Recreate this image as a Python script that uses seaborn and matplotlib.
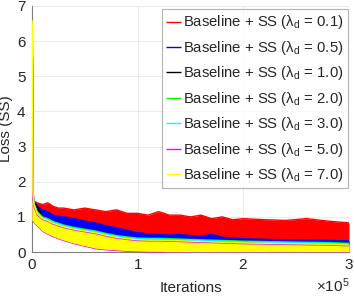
import matplotlib
matplotlib.use("Agg")
import matplotlib.pyplot as plt
import matplotlib.ticker as mticker
import pandas as pd
import seaborn as sns

# iterations at which the loss envelopes were read
iters = [0, 500, 1000, 2000, 5000, 10000, 15000, 20000, 25000, 30000, 40000,
         50000, 60000, 70000, 80000, 90000, 100000, 110000, 120000, 130000,
         140000, 150000, 160000, 170000, 180000, 190000, 200000, 220000,
         240000, 260000, 280000, 300000]

# upper envelope of each noisy loss curve
hi_01 = [6.3, 6.0, 1.8, 1.45, 1.4, 1.35, 1.4, 1.3, 1.25, 1.25, 1.2, 1.25, 1.2,
         1.15, 1.2, 1.1, 1.1, 1.05, 1.15, 1.05, 1.05, 1.0, 1.05, 0.95, 1.0,
         0.92, 0.95, 0.92, 0.9, 0.95, 0.88, 0.83]
hi_05 = [6.0, 5.5, 1.6, 1.4, 1.3, 1.2, 1.15, 1.05, 1.02, 1.0, 0.95, 0.88, 0.83,
         0.75, 0.69, 0.62, 0.55, 0.52, 0.5, 0.48, 0.5, 0.47, 0.45, 0.5, 0.42,
         0.4, 0.38, 0.36, 0.35, 0.34, 0.33, 0.32]
hi_10 = [6.0, 5.5, 1.55, 1.42, 1.32, 1.0, 0.93, 0.85, 0.8, 0.75, 0.68, 0.63,
         0.58, 0.51, 0.45, 0.41, 0.38, 0.37, 0.37, 0.36, 0.35, 0.34, 0.33,
         0.32, 0.31, 0.3, 0.29, 0.28, 0.28, 0.27, 0.26, 0.24]
hi_20 = [6.0, 5.5, 1.55, 1.38, 1.15, 1.0, 0.95, 0.87, 0.82, 0.77, 0.7, 0.65,
         0.6, 0.53, 0.47, 0.43, 0.4, 0.39, 0.39, 0.38, 0.37, 0.36, 0.35, 0.34,
         0.33, 0.32, 0.31, 0.3, 0.29, 0.28, 0.27, 0.25]
hi_30 = [6.2, 5.8, 1.72, 1.37, 1.13, 0.98, 0.93, 0.85, 0.8, 0.75, 0.68, 0.63,
         0.58, 0.51, 0.45, 0.41, 0.38, 0.37, 0.37, 0.36, 0.35, 0.34, 0.33,
         0.32, 0.31, 0.3, 0.29, 0.28, 0.27, 0.26, 0.25, 0.23]
hi_50 = [6.0, 5.5, 1.6, 1.3, 1.07, 0.93, 0.88, 0.8, 0.75, 0.7, 0.63, 0.58,
         0.53, 0.46, 0.4, 0.36, 0.33, 0.32, 0.32, 0.31, 0.3, 0.29, 0.28, 0.27,
         0.26, 0.25, 0.24, 0.23, 0.22, 0.21, 0.2, 0.18]
hi_70 = [6.6, 6.4, 1.7, 1.35, 1.1, 0.95, 0.9, 0.82, 0.77, 0.72, 0.65, 0.6,
         0.55, 0.48, 0.42, 0.38, 0.35, 0.34, 0.34, 0.33, 0.32, 0.31, 0.3, 0.29,
         0.28, 0.27, 0.26, 0.25, 0.24, 0.23, 0.22, 0.2]

# lower envelopes
lo_01 = [1.0, 1.0, 1.0, 1.0, 0.9, 0.85, 0.8, 0.75, 0.7, 0.7, 0.65, 0.6, 0.55,
         0.5, 0.45, 0.42, 0.4, 0.38, 0.36, 0.35, 0.35, 0.34, 0.33, 0.32, 0.31,
         0.3, 0.3, 0.28, 0.27, 0.26, 0.25, 0.25]
lo_hidden = [0.9, 0.9, 0.88, 0.83, 0.75, 0.6, 0.52, 0.45, 0.39, 0.34, 0.25,
             0.18, 0.11, 0.08, 0.06, 0.04, 0.03, 0.02, 0.02, 0.01, 0.01, 0.01,
             0.01, 0.01, 0.01, 0.01, 0.01, 0.01, 0.01, 0.01, 0.01, 0.01]
lo_50 = [0.88, 0.88, 0.86, 0.81, 0.73, 0.58, 0.5, 0.43, 0.37, 0.32, 0.23, 0.16,
         0.09, 0.06, 0.04, 0.02, 0.01, 0.0, 0.0, 0.0, 0.0, 0.0, 0.0, 0.0, 0.0,
         0.0, 0.0, 0.0, 0.0, 0.0, 0.0, 0.0]
lo_70 = [0.9, 0.9, 0.88, 0.83, 0.75, 0.6, 0.52, 0.45, 0.39, 0.34, 0.25, 0.18,
         0.11, 0.08, 0.06, 0.04, 0.03, 0.02, 0.02, 0.01, 0.01, 0.01, 0.01, 0.01,
         0.01, 0.01, 0.01, 0.01, 0.01, 0.01, 0.01, 0.01]

lambdas = ["0.1", "0.5", "1.0", "2.0", "3.0", "5.0", "7.0"]
colors = ["#ff0000", "#0000ff", "#000000", "#00ff00", "#00ffff", "#ff00ff", "#ffff00"]
highs = [hi_01, hi_05, hi_10, hi_20, hi_30, hi_50, hi_70]
lows = [lo_01, lo_hidden, lo_hidden, lo_hidden, lo_hidden, lo_50, lo_70]

sns.set_theme(style="whitegrid")
plt.rcParams["font.family"] = ["Liberation Sans", "DejaVu Sans"]
plt.rcParams["mathtext.fontset"] = "custom"
plt.rcParams["mathtext.rm"] = "Liberation Sans"
plt.rcParams["mathtext.it"] = "Liberation Sans:italic"
plt.rcParams["lines.solid_capstyle"] = "butt"

fig = plt.figure(figsize=(3.54, 2.99), dpi=100)
ax = fig.add_axes([0.09, 0.157, 0.896, 0.823])

for lam, col, hi, lo in zip(lambdas, colors, highs, lows):
    df = pd.DataFrame({"it": iters, "hi": hi, "lo": lo})
    sns.lineplot(data=df, x="it", y="hi", color=col, lw=1.0, ax=ax, legend=False)
    ax.fill_between(df["it"], df["lo"], df["hi"], color=col, lw=0)
    ax.plot([], [], color=col, lw=1.0,
            label=f"Baseline + SS (\u03bb$_\\mathrm{{d}}$ = {lam})")

ax.set_xlim(0, 300000)
ax.set_ylim(0, 7)
ax.set_yticks(range(0, 8))
ax.set_xticks([0, 100000, 200000, 300000])
fmt = mticker.ScalarFormatter(useMathText=True)
fmt.set_powerlimits((0, 0))
ax.xaxis.set_major_formatter(fmt)
ax.xaxis.get_offset_text().set_fontsize(11)
ax.xaxis.get_offset_text().set_color("#262626")

ax.set_facecolor("white")
ax.grid(True, color="#e6e6e6", lw=0.6)
ax.set_axisbelow(True)
for s in ["top", "right"]:
    ax.spines[s].set_visible(False)
for s in ["left", "bottom"]:
    ax.spines[s].set_color("#7f7f7f")
    ax.spines[s].set_linewidth(0.8)
    ax.spines[s].set_zorder(0.9)
ax.tick_params(labelsize=11, colors="#262626", length=2, direction="in")
ax.tick_params(axis="x", pad=4.5)
ax.tick_params(axis="y", pad=4.5)
ax.set_xlabel("Iterations", fontsize=11, color="#262626", labelpad=6)
ax.set_ylabel("Loss (SS)", fontsize=11, color="#262626", labelpad=3)

leg = ax.legend(loc="upper right", bbox_to_anchor=(0.997, 0.988),
                borderaxespad=0, fontsize=10.7, frameon=True, fancybox=False,
                handlelength=1.0, handleheight=0.5, handletextpad=0.15,
                labelspacing=0.5, borderpad=0.3)
leg.get_frame().set_edgecolor("#a0a0a0")
leg.get_frame().set_linewidth(0.8)
for h in leg.legend_handles:
    h.set_linewidth(1.0)

fig.savefig("out.png", dpi=100)
